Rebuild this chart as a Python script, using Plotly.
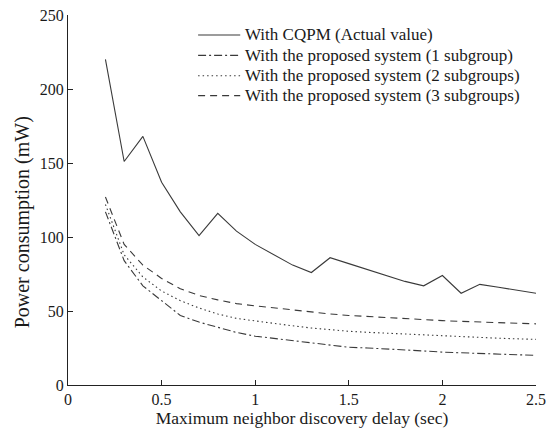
import plotly.graph_objects as go

delay = [0.2, 0.3, 0.4, 0.5, 0.6, 0.7, 0.8, 0.9, 1.0, 1.1, 1.2, 1.3,
         1.4, 1.5, 1.6, 1.7, 1.8, 1.9, 2.0, 2.1, 2.2, 2.3, 2.4, 2.5]
cqpm = [220, 151, 168, 137, 117, 101, 116, 104, 95, 88, 81, 76,
        86, 82, 78, 74, 70, 67, 74, 62, 68, 66, 64, 62]
sub1 = [117, 84, 67, 57, 47, 42.5, 39, 35.5, 33, 31.5, 30, 28.5,
        27, 25.5, 25, 24.5, 24, 23, 22.2, 21.7, 21.2, 20.8, 20.4, 20]
sub2 = [122, 88, 73, 63.5, 57, 52, 48, 45, 43.3, 41.5, 40, 38.5,
        37.2, 36.3, 35.6, 35, 34.4, 33.8, 33, 32.5, 32, 31.6, 31.2, 30.8]
sub3 = [127, 95, 81, 72, 65, 60.5, 57.5, 55, 53.5, 52, 50.5, 49.2,
        48, 47, 46.2, 45.5, 44.8, 44.2, 43.5, 43, 42.5, 42, 41.6, 41.3]

names = ["With CQPM (Actual value)",
         "With the proposed system (1 subgroup)",
         "With the proposed system (2 subgroups)",
         "With the proposed system (3 subgroups)"]
x_tick_vals = [0, 0.5, 1, 1.5, 2, 2.5]
x_tick_text = ["0", "0.5", "1", "1.5", "2", "2.5"]
y_tick_vals = [0, 50, 100, 150, 200, 250]

series = [cqpm, sub1, sub2, sub3]
dashes = ["solid", "8px,3px,2px,3px", "1.5px,3px", "7px,5px"]
line_color = "#3a3a3a"
text_color = "#1a1a1a"

font = "Liberation Serif, Times New Roman, serif"
fig = go.Figure()
for n, s, d in zip(names, series, dashes):
    fig.add_trace(go.Scatter(x=delay, y=s, mode="lines", name=n,
                             showlegend=False,
                             line=dict(color=line_color, width=1.1, dash=d)))

# legend drawn as line samples + text labels (paper coordinates)
leg_y = [0.946, 0.891, 0.836, 0.782]
for n, d, yy in zip(names, dashes, leg_y):
    fig.add_shape(type="line", xref="paper", yref="paper",
                  x0=0.278, x1=0.368, y0=yy, y1=yy,
                  line=dict(color=line_color, width=1.1, dash=d))
    fig.add_annotation(xref="paper", yref="paper", x=0.374, y=yy,
                       xanchor="left", yanchor="middle", showarrow=False,
                       text=n, font=dict(family=font, size=17, color=text_color))

# y-axis title (placed slightly below centre, as in the reference)
fig.add_annotation(xref="paper", yref="paper", x=-0.098, y=0.44,
                   xanchor="center", yanchor="middle", showarrow=False,
                   textangle=-90, text="Power consumption (mW)",
                   font=dict(family=font, size=20, color=text_color))

axis_common = dict(showline=True, linecolor="#222", linewidth=1.2,
                   ticks="inside", ticklen=5, tickcolor="#222",
                   showgrid=False, zeroline=False, mirror=False,
                   automargin=False, ticklabeloverflow="allow",
                   tickfont=dict(family=font, size=16, color=text_color))
fig.update_xaxes(range=[0, 2.5], tickvals=x_tick_vals, ticktext=x_tick_text,
                 title=dict(text="Maximum neighbor discovery delay (sec)",
                            font=dict(family=font, size=17.5, color=text_color),
                            standoff=4),
                 **axis_common)
fig.update_yaxes(range=[0, 250], tickvals=y_tick_vals, **axis_common)
fig.update_layout(width=546, height=424, plot_bgcolor="white",
                  paper_bgcolor="white",
                  margin=dict(l=60, r=18, t=7, b=47))
fig.write_html("out.html")
